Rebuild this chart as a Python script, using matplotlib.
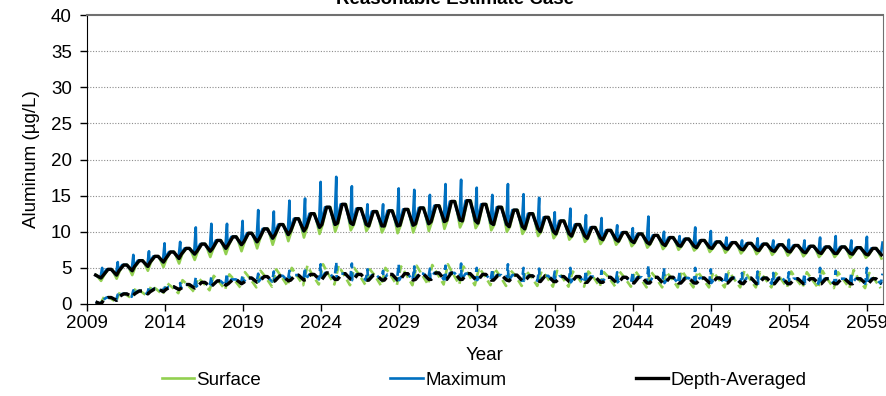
import numpy as np
import matplotlib
matplotlib.use("Agg")
import matplotlib.pyplot as plt

plt.rcParams["font.family"] = ["Liberation Sans", "DejaVu Sans"]
plt.rcParams["font.size"] = 13.5

# Anos (cada ano tem um ciclo sazonal)
anos = np.arange(2009, 2060)

# Grupo superior (linhas cheias): vale e pico anual da media na profundidade
media_min = [3.6, 4.0, 4.6, 5.2, 5.8, 6.3, 6.9, 7.3, 7.7, 8.2,
             8.6, 9.1, 9.6, 10.1, 10.6, 11.0, 11.2, 11.0, 10.8, 10.8,
             10.9, 11.1, 11.4, 11.6, 11.5, 11.2, 11.0, 10.7, 10.4, 10.0,
             9.7, 9.4, 9.1, 8.9, 8.7, 8.5, 8.3, 8.1, 8.0, 7.8,
             7.7, 7.6, 7.5, 7.4, 7.3, 7.2, 7.1, 7.0, 7.0, 6.9, 6.8]
media_max = [4.0, 4.8, 5.4, 6.0, 6.6, 7.2, 7.7, 8.3, 8.8, 9.3,
             9.8, 10.4, 11.0, 11.8, 12.5, 13.4, 13.8, 13.2, 12.8, 12.9,
             13.1, 13.3, 13.6, 14.2, 14.3, 13.8, 13.4, 13.0, 12.5, 12.0,
             11.5, 11.0, 10.6, 10.2, 9.9, 9.7, 9.5, 9.2, 9.0, 8.8,
             8.6, 8.5, 8.4, 8.3, 8.2, 8.1, 8.0, 7.9, 7.9, 7.8, 7.7]
maximo_pico = [5.0, 5.8, 6.8, 7.3, 8.4, 8.6, 10.6, 11.1, 11.1, 11.5,
               13.0, 12.8, 14.3, 14.6, 16.9, 17.6, 16.3, 13.8, 13.8, 16.0,
               15.8, 15.1, 16.6, 17.2, 16.1, 15.1, 16.6, 15.2, 14.7, 12.7,
               13.2, 12.3, 11.9, 10.9, 10.5, 12.1, 10.0, 9.4, 10.6, 10.1,
               9.2, 8.8, 9.1, 8.8, 8.9, 8.8, 9.2, 9.4, 8.8, 9.3, 8.5]
superficie_min = [3.2, 3.5, 4.0, 4.6, 5.1, 5.6, 6.1, 6.5, 6.9, 7.3,
                  7.7, 8.2, 8.7, 9.2, 9.7, 10.0, 10.2, 10.1, 9.9, 9.8,
                  9.9, 10.1, 10.4, 10.6, 10.5, 10.2, 10.0, 9.7, 9.4, 9.1,
                  8.9, 8.6, 8.3, 8.2, 8.0, 7.8, 7.6, 7.5, 7.4, 7.2,
                  7.1, 7.0, 6.9, 6.8, 6.7, 6.6, 6.5, 6.5, 6.4, 6.4, 6.3]

# Grupo inferior (linhas tracejadas)
media_min_b = [0.0, 0.5, 1.0, 1.4, 1.7, 2.0, 2.2, 2.4, 2.6, 2.8,
               3.0, 3.1, 3.2, 3.3, 3.4, 3.4, 3.4, 3.3, 3.3, 3.3,
               3.3, 3.4, 3.4, 3.4, 3.4, 3.3, 3.3, 3.2, 3.2, 3.1,
               3.1, 3.0, 3.0, 3.0, 3.0, 2.9, 2.9, 2.9, 2.9, 2.9,
               2.9, 2.9, 2.8, 2.8, 2.8, 2.8, 2.8, 2.8, 2.8, 2.8, 2.8]
media_max_b = [0.3, 0.9, 1.4, 1.8, 2.1, 2.4, 2.7, 3.0, 3.2, 3.4,
               3.6, 3.8, 3.9, 4.0, 4.1, 4.3, 4.2, 4.1, 4.0, 4.1,
               4.2, 4.2, 4.3, 4.3, 4.2, 4.1, 4.0, 4.0, 3.9, 3.9,
               3.8, 3.8, 3.8, 3.7, 3.7, 3.7, 3.7, 3.7, 3.6, 3.6,
               3.6, 3.6, 3.6, 3.6, 3.6, 3.5, 3.5, 3.5, 3.5, 3.5, 3.5]
maximo_pico_b = [0.6, 1.3, 1.9, 2.3, 2.6, 2.9, 3.7, 3.8, 4.2, 4.0,
                 4.2, 4.5, 4.6, 5.0, 5.5, 5.8, 5.6, 4.8, 4.6, 5.5,
                 5.2, 4.9, 5.3, 5.6, 5.0, 4.8, 5.5, 5.0, 4.9, 4.5,
                 5.0, 4.6, 4.6, 4.4, 4.4, 5.3, 5.0, 4.4, 5.0, 4.8,
                 4.5, 4.3, 4.5, 4.3, 4.4, 4.2, 5.0, 4.6, 4.3, 5.0, 4.2]
superficie_pico_b = [0.4, 1.1, 1.7, 2.2, 2.5, 2.9, 3.3, 3.6, 3.9, 4.1,
                     4.4, 4.6, 4.8, 5.0, 5.3, 5.5, 5.3, 5.0, 4.8, 5.0,
                     5.2, 5.3, 5.4, 5.5, 5.2, 5.0, 4.9, 4.7, 4.6, 4.5,
                     4.6, 4.5, 4.5, 4.4, 4.5, 4.6, 4.5, 4.4, 4.6, 4.5,
                     4.4, 4.5, 4.6, 4.4, 4.3, 4.5, 4.4, 4.6, 4.4, 4.7, 4.3]
superficie_min_b = [0.0, 0.3, 0.8, 1.1, 1.3, 1.5, 1.7, 1.9, 2.0, 2.2,
                    2.3, 2.4, 2.5, 2.6, 2.7, 2.7, 2.6, 2.6, 2.5, 2.6,
                    2.6, 2.7, 2.7, 2.7, 2.6, 2.6, 2.5, 2.5, 2.5, 2.4,
                    2.4, 2.4, 2.4, 2.4, 2.4, 2.3, 2.3, 2.3, 2.3, 2.3,
                    2.3, 2.3, 2.3, 2.3, 2.3, 2.3, 2.2, 2.2, 2.2, 2.2, 2.2]


def serie(fases, colunas):
    # monta a serie sazonal: um ponto por fase em cada ano
    t = (anos[:, None] + np.array(fases)[None, :]).ravel()
    v = np.column_stack(colunas).ravel()
    ok = (t >= 2009.5) & (t <= 2060)
    return t[ok], v[ok]


verde = "#92D050"
azul = "#0070C0"
preto = "#000000"
tracejado = (0, (3, 1.6))

fig = plt.figure(figsize=(8.86, 3.96), dpi=100)
ax = fig.add_axes([87 / 886, 1 - 304 / 396, 796 / 886, 289 / 396])

# superficie
t, v = serie([0.1, 0.35, 0.6, 0.9], [media_min, media_max, media_max, superficie_min])
ax.plot(t, v, color=verde, lw=1.9, label="Surface")
t, v = serie([0.12, 0.42, 0.85], [superficie_pico_b, media_max_b, superficie_min_b])
ax.plot(t, v, color=verde, lw=1.9, ls=tracejado)

# maximo
t, v = serie([0.0, 0.25, 0.55, 0.86, 0.97], [media_min, media_max, media_max, media_min, maximo_pico])
ax.plot(t, v, color=azul, lw=1.9, label="Maximum")
t, v = serie([0.0, 0.25, 0.55, 0.86, 0.97], [media_min_b, media_max_b, media_max_b, media_min_b, maximo_pico_b])
ax.plot(t, v, color=azul, lw=1.9, ls=tracejado)

# media na profundidade
t, v = serie([0.05, 0.35, 0.55, 0.9], [media_min, media_max, media_max, media_min])
ax.plot(t, v, color=preto, lw=2.4, label="Depth-Averaged")
t, v = serie([0.05, 0.35, 0.55, 0.9], [media_min_b, media_max_b, media_max_b, media_min_b])
ax.plot(t, v, color=preto, lw=2.4, ls=tracejado)

ax.set_xlim(2009, 2060)
ax.set_ylim(0, 40)
ax.set_xticks(np.arange(2009, 2060, 5))
ax.set_yticks(np.arange(0, 41, 5))
ax.tick_params(direction="out", length=5, width=1, pad=3, labelsize=13.5)
ax.tick_params(axis="y", pad=6)
for y in range(5, 40, 5):
    ax.axhline(y, color="#8c8c8c", lw=0.8, ls=(0, (1, 1.5)), zorder=0)
for lado in ["top", "right"]:
    ax.spines[lado].set_color("#707070")
ax.spines["top"].set_linewidth(1.5)

fig.text(455 / 886, 1 - 4 / 396, "Reasonable Estimate Case", ha="center", va="baseline",
         fontsize=13.5, fontweight="bold")
fig.text(31 / 886, 1 - 159.5 / 396, "Aluminum (\u00b5g/L)", rotation=90, ha="center", va="center")
fig.text(485 / 886, 1 - 355 / 396, "Year", ha="center", va="center")

fig.legend(loc="center", bbox_to_anchor=(484 / 886, 1 - 380 / 396), ncol=3, frameon=False,
           handlelength=1.75, handletextpad=0.1, columnspacing=6.9, fontsize=13.5)

fig.savefig("out.png", dpi=100)
